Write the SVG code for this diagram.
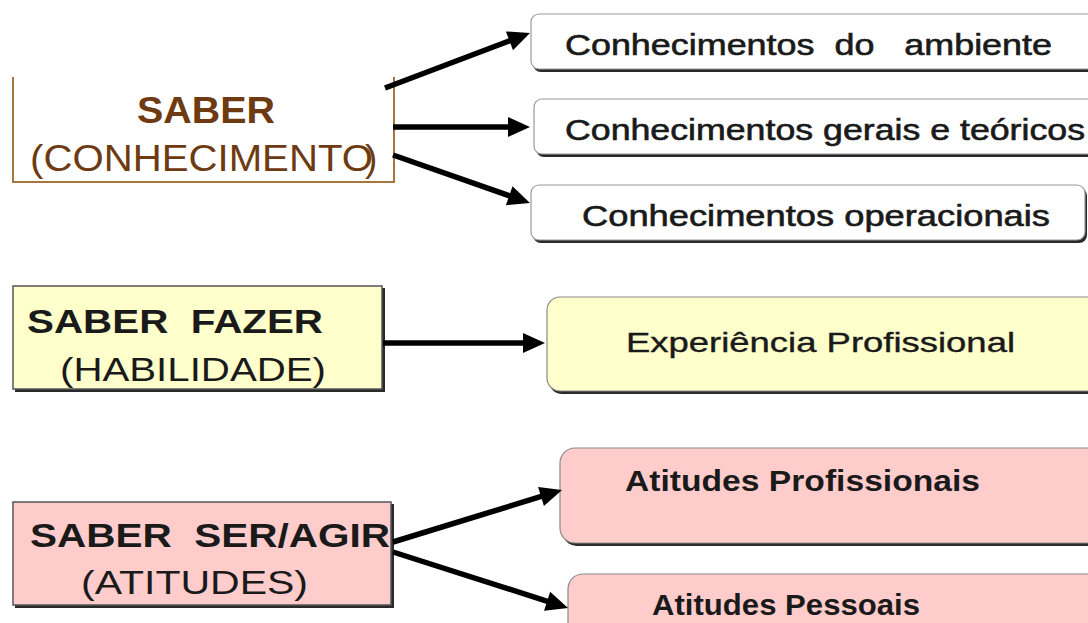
<svg xmlns="http://www.w3.org/2000/svg" width="1088" height="623" viewBox="0 0 1088 623">
<defs>
<style>
.t{font-family:"Liberation Sans",Arial,sans-serif;fill:#1a1a1a;white-space:pre}
.b{font-weight:bold}
.brown{fill:#6e3a12}
.shadow{fill:#2a2a2a}
.wbox{fill:#ffffff;stroke:#9a9a9a;stroke-width:1.2}
.ybox{fill:#ffffcc;stroke:#8a8a8a;stroke-width:1.2}
.pbox{fill:#ffcccc;stroke:#8a8a8a;stroke-width:1.2}
.sq{stroke:#555;stroke-width:1.5}
.conn{stroke:#000;stroke-width:5.5;fill:none;marker-end:url(#ah)}
</style>
<marker id="ah" markerUnits="userSpaceOnUse" markerWidth="24" markerHeight="22" refX="2" refY="11" orient="auto" overflow="visible">
<path d="M0,1 L22,11 L0,21 z" fill="#000"/>
</marker>
</defs>
<rect width="1088" height="623" fill="#ffffff"/>

<g id="saber">
<path d="M13,77 V182 H394 V77" fill="none" stroke="#a8763e" stroke-width="2"/>
<text class="t b brown" x="137" y="123" font-size="36" textLength="138" lengthAdjust="spacingAndGlyphs">SABER</text>
<text class="t brown" x="30" y="171" font-size="37" textLength="343" lengthAdjust="spacingAndGlyphs">(CONHECIMENTO</text>
<text class="t brown" x="365" y="171" font-size="37">)</text>
</g>

<g id="c1">
<rect class="shadow" x="533" y="17" width="600" height="55" rx="8"/>
<rect class="wbox" x="531" y="14" width="600" height="55" rx="8"/>
<text class="t" x="565" y="55" font-size="29" stroke="#1a1a1a" stroke-width="0.6" textLength="487" lengthAdjust="spacingAndGlyphs">Conhecimentos  do   ambiente</text>
</g>

<g id="c2">
<rect class="shadow" x="536" y="102" width="600" height="55" rx="8"/>
<rect class="wbox" x="534" y="99" width="600" height="55" rx="8"/>
<text class="t" x="565" y="140" font-size="29" stroke="#1a1a1a" stroke-width="0.6" textLength="520" lengthAdjust="spacingAndGlyphs">Conhecimentos gerais e teóricos</text>
</g>

<g id="c3">
<rect class="shadow" x="533" y="188" width="554" height="55" rx="8"/>
<rect class="wbox" x="531" y="185" width="554" height="55" rx="8"/>
<text class="t" x="582" y="226" font-size="29" stroke="#1a1a1a" stroke-width="0.6" textLength="468" lengthAdjust="spacingAndGlyphs">Conhecimentos operacionais</text>
</g>

<g id="saberfazer">
<rect class="shadow" x="15" y="288" width="370" height="104"/>
<rect class="ybox sq" x="13" y="286" width="369" height="103"/>
<text class="t b" x="27" y="333" font-size="33" textLength="296" lengthAdjust="spacingAndGlyphs">SABER  FAZER</text>
<text class="t" x="60" y="381" font-size="34" textLength="266" lengthAdjust="spacingAndGlyphs">(HABILIDADE)</text>
</g>

<g id="experiencia">
<rect class="shadow" x="549" y="300" width="600" height="94" rx="13"/>
<rect class="ybox" x="547" y="297" width="600" height="94" rx="13"/>
<text class="t" x="626" y="352" font-size="28" stroke="#1a1a1a" stroke-width="0.4" textLength="389" lengthAdjust="spacingAndGlyphs">Experiência Profissional</text>
</g>

<g id="saberser">
<rect class="shadow" x="15" y="504" width="379" height="104"/>
<rect class="pbox sq" x="13" y="502" width="378" height="103"/>
<text class="t b" x="30" y="547" font-size="33" textLength="360" lengthAdjust="spacingAndGlyphs">SABER  SER/AGIR</text>
<text class="t" x="81" y="594" font-size="34" textLength="227" lengthAdjust="spacingAndGlyphs">(ATITUDES)</text>
</g>

<g id="atprof">
<rect class="shadow" x="562" y="451" width="600" height="95" rx="15"/>
<rect class="pbox" x="560" y="448" width="600" height="95" rx="15"/>
<text class="t b" x="625" y="491" font-size="29" textLength="355" lengthAdjust="spacingAndGlyphs">Atitudes Profissionais</text>
</g>

<g id="atpess">
<rect class="shadow" x="570" y="577" width="600" height="95" rx="15"/>
<rect class="pbox" x="568" y="574" width="600" height="95" rx="15"/>
<text class="t b" x="652" y="615" font-size="29" textLength="268" lengthAdjust="spacingAndGlyphs">Atitudes Pessoais</text>
</g>

<g id="connectors">
<line class="conn" x1="385" y1="88" x2="511.3" y2="40.1"/>
<line class="conn" x1="393" y1="127" x2="510" y2="127"/>
<line class="conn" x1="393" y1="155" x2="511.1" y2="196.4"/>
<line class="conn" x1="383" y1="343" x2="525" y2="343"/>
<line class="conn" x1="393" y1="542" x2="542.9" y2="495.9"/>
<line class="conn" x1="393" y1="552" x2="549" y2="601.8"/>
</g>
</svg>
